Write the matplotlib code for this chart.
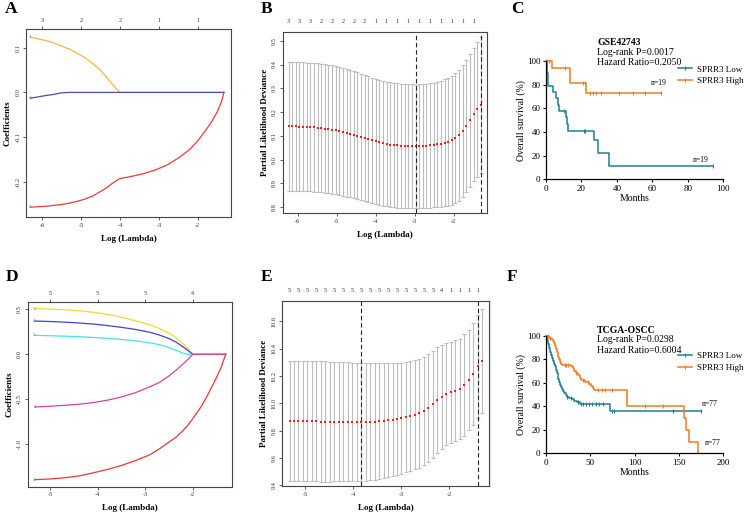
import matplotlib
matplotlib.use("Agg")
import matplotlib.pyplot as plt
import numpy as np
from matplotlib.lines import Line2D

plt.rcParams["font.family"] = ["Liberation Serif", "DejaVu Serif"]
plt.rcParams["axes.unicode_minus"] = False

W, H = 747, 516

# ---------------- A: LASSO coefficient paths (GSE42743) ----------------
a_loglam = [-6.3, -6.1, -5.9, -5.7, -5.5, -5.3, -5.1, -4.9, -4.7, -4.5, -4.35, -4.2,
            -4.1, -4.0, -3.7, -3.4, -3.1, -2.8, -2.5, -2.2, -2.0, -1.8, -1.65, -1.5,
            -1.4, -1.33]
a_coef1 = [0.124, 0.120, 0.116, 0.111, 0.104, 0.097, 0.088, 0.078, 0.065, 0.050,
           0.035, 0.019, 0.009, 0.0, 0, 0, 0, 0, 0, 0, 0, 0, 0, 0, 0, 0]
a_coef3 = [-0.013, -0.010, -0.007, -0.0045, -0.001, 0, 0, 0, 0, 0, 0, 0, 0, 0,
           0, 0, 0, 0, 0, 0, 0, 0, 0, 0, 0, 0]
a_coef2 = [-0.257, -0.256, -0.255, -0.253, -0.251, -0.248, -0.244, -0.239, -0.232,
           -0.222, -0.214, -0.204, -0.198, -0.193, -0.188, -0.182, -0.174, -0.163,
           -0.147, -0.127, -0.108, -0.085, -0.066, -0.043, -0.022, 0.0]
a_top_ticks = [-6, -5, -4, -3, -2]
a_top_labels = ["3", "2", "2", "1", "1"]

# ---------------- B: cross-validation curve (GSE42743) ----------------
b_loglam = np.linspace(-6.24, -1.30, 54)
b_cvm = [9.140, 9.140, 9.140, 9.139, 9.139, 9.138, 9.137, 9.136, 9.135, 9.133,
         9.131, 9.129, 9.126, 9.123, 9.120, 9.117, 9.113, 9.109, 9.105, 9.101,
         9.096, 9.091, 9.086, 9.081, 9.077, 9.073, 9.069, 9.066, 9.063, 9.061,
         9.060, 9.059, 9.058, 9.058, 9.058, 9.057, 9.058, 9.058, 9.059, 9.060,
         9.062, 9.064, 9.067, 9.071, 9.076, 9.082, 9.090, 9.102, 9.120, 9.142,
         9.166, 9.190, 9.212, 9.230]
b_cvsd = [0.270, 0.270, 0.270, 0.270, 0.270, 0.270, 0.270, 0.270, 0.270, 0.270,
          0.270, 0.270, 0.270, 0.269, 0.269, 0.268, 0.268, 0.267, 0.267, 0.266,
          0.266, 0.265, 0.265, 0.264, 0.264, 0.263, 0.263, 0.262, 0.262, 0.261,
          0.261, 0.260, 0.260, 0.259, 0.259, 0.259, 0.259, 0.260, 0.260, 0.261,
          0.262, 0.263, 0.265, 0.267, 0.269, 0.271, 0.273, 0.275, 0.277, 0.278,
          0.280, 0.281, 0.283, 0.285]
b_nzero = ["3", "3", "3", "2", "2", "2", "2", "2", "1", "1", "1", "1", "1", "1",
           "1", "1", "1", "1"]
b_min_idx, b_1se_idx = 35, 53

# ---------------- C: KM, GSE42743 ----------------
c_low_t = [0, 0.3, 0.6, 0.9, 1.2, 3.8, 5.8, 6.8, 7.5, 11.3, 12.0, 12.6, 27.3, 29.2, 35.3, 94]
c_low_s = [100, 94.7, 89.5, 84.2, 78.9, 73.7, 68.4, 63.2, 57.9, 52.6, 46.8, 41.0,
           32.8, 21.9, 10.9, 10.9]
c_low_cens = [10.2, 21.5, 22.2, 94]
c_high_t = [0, 3.5, 13.5, 22.6, 65]
c_high_s = [100, 94.4, 81.0, 72.6, 72.6]
c_high_cens = [0.8, 1.6, 10.5, 21.0, 22.0, 24.8, 26.5, 28.2, 31.0, 41.0, 49.0, 56.0, 65.0]

# ---------------- D: LASSO coefficient paths (TCGA-OSCC) ----------------
d_loglam = [-5.32, -5.0, -4.7, -4.4, -4.1, -3.8, -3.5, -3.2, -2.9, -2.7, -2.5, -2.35,
            -2.2, -2.1, -2.0, -1.9, -1.8, -1.7, -1.6, -1.5, -1.4, -1.31]
d_coef3 = [0.508, 0.503, 0.496, 0.485, 0.468, 0.445, 0.413, 0.372, 0.328, 0.287,
           0.236, 0.185, 0.119, 0.065, 0, 0, 0, 0, 0, 0, 0, 0]
d_coef4 = [0.370, 0.365, 0.358, 0.349, 0.337, 0.320, 0.300, 0.276, 0.245, 0.214,
           0.175, 0.135, 0.081, 0.042, 0, 0, 0, 0, 0, 0, 0, 0]
d_coef5 = [0.211, 0.207, 0.202, 0.196, 0.188, 0.178, 0.166, 0.150, 0.127, 0.108,
           0.075, 0.045, 0.012, 0, 0, 0, 0, 0, 0, 0, 0, 0]
d_coef1 = [-0.585, -0.577, -0.567, -0.555, -0.537, -0.510, -0.474, -0.425, -0.360,
           -0.312, -0.240, -0.175, -0.104, -0.055, 0, 0, 0, 0, 0, 0, 0, 0]
d_coef2 = [-1.393, -1.385, -1.372, -1.352, -1.318, -1.280, -1.235, -1.180, -1.115,
           -1.050, -0.975, -0.920, -0.845, -0.785, -0.715, -0.640, -0.560, -0.465,
           -0.360, -0.255, -0.140, 0.0]
d_top_ticks = [-5, -4, -3, -2]
d_top_labels = ["5", "5", "5", "4"]

# ---------------- E: cross-validation curve (TCGA-OSCC) ----------------
e_loglam = np.linspace(-5.33, -1.32, 44)
e_cvm = [9.870, 9.870, 9.870, 9.869, 9.869, 9.868, 9.868, 9.867, 9.867, 9.866,
         9.866, 9.865, 9.865, 9.865, 9.864, 9.864, 9.864, 9.865, 9.866, 9.867,
         9.869, 9.872, 9.876, 9.880, 9.885, 9.890, 9.897, 9.905, 9.917, 9.927,
         9.944, 9.968, 9.995, 10.024, 10.048, 10.068, 10.083, 10.092, 10.107, 10.132,
         10.171, 10.217, 10.271, 10.310]
e_cvsd = [0.440, 0.440, 0.440, 0.440, 0.440, 0.440, 0.440, 0.440, 0.440, 0.439,
          0.438, 0.437, 0.436, 0.435, 0.434, 0.433, 0.432, 0.430, 0.428, 0.426,
          0.424, 0.421, 0.418, 0.415, 0.412, 0.407, 0.403, 0.402, 0.398, 0.398,
          0.396, 0.397, 0.392, 0.390, 0.382, 0.375, 0.370, 0.371, 0.368, 0.373,
          0.369, 0.373, 0.379, 0.380]
e_nzero = ["5"] * 17 + ["4", "1", "1", "1", "1"]
e_min_idx, e_1se_idx = 16, 42

# ---------------- F: KM, TCGA-OSCC ----------------
f_low_t = [0, 1, 2, 3, 4, 5, 6, 7, 8, 9, 10, 11, 12, 13, 14, 15, 16, 17, 18, 19, 20,
           22, 24, 26, 29, 32, 35, 38, 72.5, 175]
f_low_s = [100, 97, 93, 90, 88, 86, 84, 81, 79, 76.5, 74, 71, 68.5, 66, 63, 61, 58.5,
           56.5, 55, 53, 51.5, 50, 48, 47, 46, 45, 44, 42, 36, 36]
f_low_cens = [24, 28, 36, 40, 42, 45, 48, 52, 56, 60, 64, 75, 77, 143, 175]
f_high_t = [0, 3, 6, 8, 9, 10, 11, 12, 13, 14, 15, 16, 17, 18, 28, 30, 32, 34, 36, 38,
            40, 44, 48, 51, 53, 54.5, 91, 155.5, 158, 161, 172]
f_high_s = [100, 98.7, 97.4, 96, 94, 91.5, 89, 86.5, 84, 82, 80, 78, 76.5, 75.5, 74,
            72.5, 70.5, 68.5, 66.5, 64.5, 62.5, 61, 59.5, 57.5, 55.5, 54, 40.3, 30, 20,
            10, 0]
f_high_cens = [2, 4, 21, 23, 25, 34, 42, 47, 59, 63, 66, 74, 112, 132]

LOW_C = "#217E91"
HIGH_C = "#F47A20"


def px_axes(fig, x0, y0, x1, y1):
    return fig.add_axes([x0 / W, 1 - y1 / H, (x1 - x0) / W, (y1 - y0) / H])


def lasso_style(ax, xticks, yticks, ylabel):
    for s in ax.spines.values():
        s.set_color("#444444")
        s.set_linewidth(0.8)
    ax.set_xticks(xticks)
    ax.set_xticklabels([str(v) for v in xticks])
    ax.set_yticks(yticks)
    ax.set_yticklabels([f"{v:.1f}" for v in yticks], rotation=90, va="center")
    ax.tick_params(labelsize=4.5, length=2.5, width=0.6, color="#444444",
                   labelcolor="#333333", pad=1.5)
    ax.set_xlabel("Log (Lambda)", fontsize=6.5, fontweight="bold", labelpad=5)
    ax.set_ylabel(ylabel, fontsize=6.5, fontweight="bold", labelpad=2.5)


def path_panel(ax, x, coefs, colors, names, top_ticks, top_labels):
    for c, col, nm in zip(coefs, colors, names):
        ax.plot(x, c, color=col, lw=0.9)
        ax.text(x[0] + 0.02, c[0], nm, fontsize=3.8, color="#666666",
                ha="right", va="center")
    top = ax.secondary_xaxis("top")
    top.set_xticks(top_ticks)
    top.set_xticklabels(top_labels)
    top.tick_params(labelsize=4.5, length=2.5, width=0.6, color="#444444",
                    labelcolor="#333333", pad=1.5)
    top.spines["top"].set_visible(False)


def cv_panel(ax, x, cvm, cvsd, nzero, step, i_min, i_1se):
    cvm = np.asarray(cvm)
    cvsd = np.asarray(cvsd)
    ax.errorbar(x, cvm, yerr=cvsd, fmt="none", ecolor="#BDBDBD", elinewidth=0.8,
                capsize=1.6, capthick=0.8)
    ax.plot(x, cvm, "s", color="#FF1A1A", ms=1.7, mew=0)
    for i in (i_min, i_1se):
        ax.axvline(x[i], color="#222222", lw=0.8, dashes=(4, 2.5))
    for k, lab in enumerate(nzero):
        ax.text(x[k * step], 1.045, lab, transform=ax.get_xaxis_transform(),
                fontsize=4.5, color="#333333", ha="center", va="bottom")


def step_at(t, s, q):
    idx = np.searchsorted(t, q, side="right") - 1
    return np.asarray(s)[np.clip(idx, 0, len(s) - 1)]


def km_panel(ax, low_t, low_s, low_c, high_t, high_s, high_c, xmax, xstep):
    for t, s, cens, col in ((low_t, low_s, low_c, LOW_C), (high_t, high_s, high_c, HIGH_C)):
        ax.step(t, s, where="post", color=col, lw=1.1, clip_on=False)
        ax.plot(cens, step_at(t, s, cens), ls="none", marker="|", ms=3.2, mew=0.7,
                color=col, clip_on=False)
    ax.spines[["top", "right"]].set_visible(False)
    ax.spines["left"].set_linewidth(0.9)
    ax.spines["bottom"].set_linewidth(0.9)
    ax.set_xlim(0, xmax)
    ax.set_ylim(0, 100)
    ax.set_xticks(np.arange(0, xmax + 1, xstep))
    ax.set_yticks(np.arange(0, 101, 20))
    ax.tick_params(labelsize=6.5, length=2.5, width=0.8, pad=1.5)
    ax.set_xlabel("Months", fontsize=7, labelpad=0.5)
    ax.set_ylabel("Overall survival (%)", fontsize=7, labelpad=1)
    handles = [Line2D([], [], color=LOW_C, lw=1.1, marker="|", ms=3.2, mew=0.7),
               Line2D([], [], color=HIGH_C, lw=1.1, marker="|", ms=3.2, mew=0.7)]
    return handles


fig = plt.figure(figsize=(W / 100, H / 100), dpi=100)

# A
ax = px_axes(fig, 26, 29, 231, 217)
path_panel(ax, a_loglam, [a_coef1, a_coef3, a_coef2],
           ["#F4B73F", "#4B4BB5", "#F23A3A"], ["1", "3", "2"], a_top_ticks, a_top_labels)
ax.set_xlim(-6.41, -1.15)
ax.set_ylim(-0.279, 0.142)
lasso_style(ax, [-6, -5, -4, -3, -2], [-0.2, -0.1, 0.0, 0.1], "Coefficients")

# B
ax = px_axes(fig, 282.7, 31.7, 486.7, 213)
cv_panel(ax, b_loglam, b_cvm, b_cvsd, b_nzero, 3, b_min_idx, b_1se_idx)
ax.set_xlim(-6.39, -1.15)
ax.set_ylim(8.776, 9.538)
lasso_style(ax, [-6, -5, -4, -3, -2], [8.8, 8.9, 9.0, 9.1, 9.2, 9.3, 9.4, 9.5],
            "Partial Likelihood Deviance")

# C
ax = px_axes(fig, 546, 61, 723.3, 179.3)
h = km_panel(ax, c_low_t, c_low_s, c_low_cens, c_high_t, c_high_s, c_high_cens, 100, 20)
ax.text(29, 115.5, "GSE42743", fontsize=7, fontweight="bold", va="center", clip_on=False)
ax.text(29, 107.3, "Log-rank P=0.0017", fontsize=7, va="center", clip_on=False)
ax.text(29, 98.6, "Hazard Ratio=0.2050", fontsize=7, va="center", clip_on=False)
ax.text(63.5, 81, "n=19", fontsize=5.5, ha="center", va="center")
ax.text(87.2, 16.3, "n=19", fontsize=5.5, ha="center", va="center")
ax.legend(h, ["SPRR3 Low", "SPRR3 High"], loc="center left", bbox_to_anchor=(0.745, 0.879),
          frameon=False, fontsize=6.5, handlelength=1.55, handletextpad=0.6,
          labelspacing=0.4, borderaxespad=0, borderpad=0)

# D
ax = px_axes(fig, 27.7, 301.7, 232.3, 486.7)
path_panel(ax, d_loglam, [d_coef3, d_coef4, d_coef5, d_coef1, d_coef2],
           ["#F2DA2B", "#4040E0", "#3FE6EA", "#E0409A", "#F03535"],
           ["3", "4", "5", "1", "2"], d_top_ticks, d_top_labels)
ax.set_xlim(-5.47, -1.17)
ax.set_ylim(-1.471, 0.585)
lasso_style(ax, [-5, -4, -3, -2], [-1.0, -0.5, 0.0, 0.5], "Coefficients")

# E
ax = px_axes(fig, 282.3, 301, 489.3, 486)
cv_panel(ax, e_loglam, e_cvm, e_cvsd, e_nzero, 2, e_min_idx, e_1se_idx)
ax.set_xlim(-5.48, -1.17)
ax.set_ylim(9.395, 10.75)
lasso_style(ax, [-5, -4, -3, -2], [9.4, 9.6, 9.8, 10.0, 10.2, 10.4, 10.6],
            "Partial Likelihood Deviance")

# F
ax = px_axes(fig, 546, 336, 723.3, 453.3)
h = km_panel(ax, f_low_t, f_low_s, f_low_cens, f_high_t, f_high_s, f_high_cens, 200, 50)
ax.text(57.2, 105.1, "TCGA-OSCC", fontsize=7, fontweight="bold", va="center", clip_on=False)
ax.text(57.2, 96.6, "Log-rank P=0.0298", fontsize=7, va="center", clip_on=False)
ax.text(57.2, 87.5, "Hazard Ratio=0.6004", fontsize=7, va="center", clip_on=False)
ax.text(185, 41.8, "n=77", fontsize=5.5, ha="center", va="center", clip_on=False)
ax.text(187.8, 8.5, "n=77", fontsize=5.5, ha="center", va="center", clip_on=False)
ax.legend(h, ["SPRR3 Low", "SPRR3 High"], loc="center left", bbox_to_anchor=(0.745, 0.777),
          frameon=False, fontsize=6.5, handlelength=1.55, handletextpad=0.6,
          labelspacing=0.4, borderaxespad=0, borderpad=0)

fig.add_artist(Line2D([490.5 / W, 490.5 / W], [1 - 300 / H, 1 - 487 / H],
                      color="#DDDDDD", lw=0.8))

# panel letters
for lab, x, y in (("A", 5, 9), ("B", 261, 9), ("C", 511, 9),
                  ("D", 6, 277), ("E", 261, 277), ("F", 507, 277)):
    fig.text(x / W, 1 - y / H, lab, fontsize=12.5, fontweight="bold", va="center", ha="left")

fig.savefig("out.png", dpi=100)
